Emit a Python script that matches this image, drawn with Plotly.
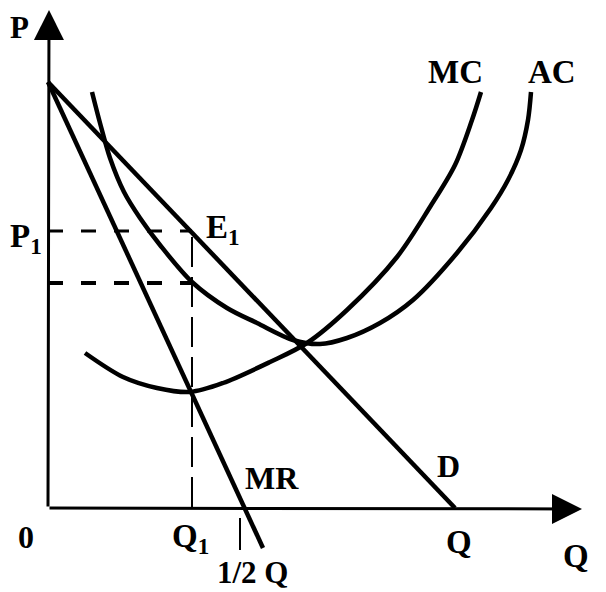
import plotly.graph_objects as go

# Curves in (Q, P) units (origin at axes corner)
d_q = [0, 407]
d_p = [426, 0]

mr_q = [0, 197, 215]
mr_p = [426, 0, -40]

mc_q = [37, 75, 109, 142, 175, 222, 259, 299, 349, 382, 407, 424, 433]
mc_p = [155, 131, 120, 116, 125, 146, 165, 198, 251, 301, 343, 388, 416]

ac_q = [44, 52, 62, 76, 92, 112, 144, 179, 209, 245, 272, 299, 332, 365, 409, 443, 460, 473, 480, 483]
ac_p = [416, 385, 350, 316, 290, 263, 226, 200, 185, 168, 164, 170, 185, 208, 255, 300, 328, 358, 388, 416]

q1 = 144
p1 = 277
ac_at_q1 = 225
half_q = 192
q_max = 534
p_max = 498

# text, x, y, size, xanchor
labels = [
    ("P", -40, 481, 31, "left"),
    ("P<sub>1</sub>", -40, 270, 33, "left"),
    ("E<sub>1</sub>", 175, 279, 33, "center"),
    ("MC", 407, 436, 33, "center"),
    ("AC", 504, 436, 33, "center"),
    ("MR", 224, 30, 32, "center"),
    ("D", 400, 42, 32, "center"),
    ("0", -22, -29, 32, "center"),
    ("Q<sub>1</sub>", 142, -30, 33, "center"),
    ("1/2 Q", 204, -64, 31, "center"),
    ("Q", 411, -34, 33, "center"),
    ("Q", 528, -48, 33, "center"),
]

fig = go.Figure()
line = dict(color="black", width=4.5)
fig.add_trace(go.Scatter(x=d_q, y=d_p, mode="lines", line=line, hoverinfo="skip"))
fig.add_trace(go.Scatter(x=mr_q, y=mr_p, mode="lines", line=line, hoverinfo="skip"))
fig.add_trace(go.Scatter(x=mc_q, y=mc_p, mode="lines", line=dict(color="black", width=4.5, shape="spline", smoothing=0.9), hoverinfo="skip"))
fig.add_trace(go.Scatter(x=ac_q, y=ac_p, mode="lines", line=dict(color="black", width=4.5, shape="spline", smoothing=0.9), hoverinfo="skip"))

# dashed guides
fig.add_shape(type="line", x0=0, x1=q1, y0=p1, y1=p1, line=dict(color="black", width=3, dash="15px,18px"))
fig.add_shape(type="line", x0=0, x1=q1, y0=ac_at_q1, y1=ac_at_q1, line=dict(color="black", width=4, dash="15px,18px"))
fig.add_shape(type="line", x0=q1, x1=q1, y0=p1 - 6, y1=0, line=dict(color="black", width=2, dash="30px,10px"))
# tick at 1/2 Q
fig.add_shape(type="line", x0=half_q, x1=half_q, y0=-10, y1=-42, line=dict(color="black", width=2))

# axes with arrows
fig.add_annotation(x=1, y=p_max, ax=0, ay=0, xref="x", yref="y", axref="x", ayref="y",
                   showarrow=True, arrowhead=2, arrowsize=2, arrowwidth=3, arrowcolor="black", text="")
fig.add_annotation(x=q_max, y=-1, ax=0, ay=0, xref="x", yref="y", axref="x", ayref="y",
                   showarrow=True, arrowhead=2, arrowsize=2, arrowwidth=3, arrowcolor="black", text="")

for t, x, y, s, xa in labels:
    fig.add_annotation(x=x, y=y, text=t, showarrow=False, xanchor=xa,
                       font=dict(family="Liberation Serif", size=s, color="black", weight="bold"))

# page body has an 8px margin, so the figure is 8px smaller and ranges shifted
fig.update_layout(
    width=598, height=584, margin=dict(l=0, r=0, t=0, b=0),
    plot_bgcolor="white", paper_bgcolor="white", showlegend=False,
    xaxis=dict(range=[-40, 558], visible=False, fixedrange=True),
    yaxis=dict(range=[-84, 500], visible=False, fixedrange=True),
)
fig.write_html("out.html")
